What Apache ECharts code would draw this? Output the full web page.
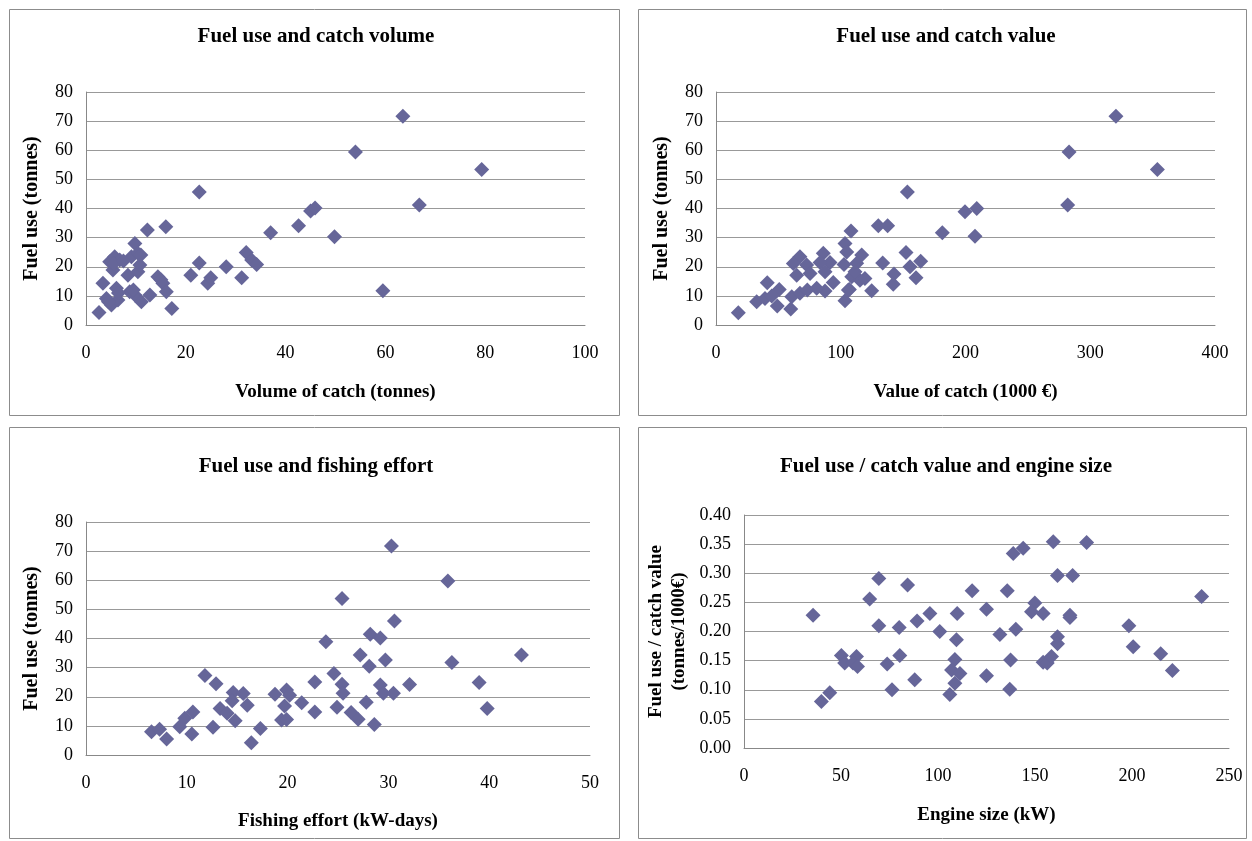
<!DOCTYPE html>
<html>
<head>
<meta charset="utf-8">
<script src="https://cdn.jsdelivr.net/npm/echarts@6/dist/echarts.min.js"></script>
<style>
html,body{margin:0;padding:0;background:#fff;}
#c{width:1252px;height:841px;}
</style>
</head>
<body>
<div id="c"></div>
<script>
// Panel 1: volume of catch (tonnes) vs fuel use (tonnes)
var volumeX = [2.6,3.4,4.1,4.75,5.1,5.4,5.75,6.1,6.4,6.75,8.4,8.75,9.1,9.8,9.8,10.4,10.4,10.8,11.1,12.3,12.8,14.4,15.0,15.4,16.0,16.1,17.2,21.0,22.7,22.7,24.4,25.0,28.1,31.2,32.1,33.2,34.2,37.0,42.6,45.0,45.9,49.8,54.0,59.5,63.5,66.8,79.3,5.5,6.5,7.5,9.5,4.5,11.0];
var volumeY = [4.3,14.3,9.1,21.7,6.9,18.9,23.4,12.6,8.6,22.3,17.1,11.4,23.4,10.3,28.0,24.6,18.3,20.6,8.0,32.6,10.3,16.6,15.5,14.3,33.7,11.4,5.7,17.1,45.7,21.3,14.3,16.2,20.0,16.2,24.9,22.3,20.8,31.7,34.1,39.1,40.2,30.3,59.4,11.8,71.7,41.2,53.4,21.0,11.0,22.0,12.0,8.0,24.0];

// Panel 2: value of catch (1000 EUR) vs fuel use (tonnes)
var valueX = [17.9,153.4,181.4,130.1,137.6,108.2,152.3,155.5,164.1,160.3,142.7,142.1,133.6,124.8,103.4,106.9,59.9,41.1,50.7,32.6,49.1,320.6,283.0,353.8,281.9,199.6,209.0,207.6,103.4,104.8,116.8,86.0,91.4,102.6,112.8,87.4,94.0,87.4,108.8,115.4,119.4,106.1,111.4,67.3,83.4,62.0,72.7,64.7,75.4,39.3,44.7,60.7,67.3,73.2,80.7];
var valueY = [4.2,45.7,31.7,34.1,34.1,32.3,24.9,20.0,21.9,16.2,17.5,14.0,21.3,11.8,8.3,12.2,5.5,14.5,12.2,8.0,6.5,71.7,59.4,53.4,41.2,38.9,40.0,30.5,28.0,25.1,24.0,24.6,21.5,20.8,21.2,18.3,14.6,11.7,16.6,15.4,16.0,12.0,18.3,23.4,21.5,21.1,20.6,17.1,17.7,9.1,10.0,9.7,10.9,12.0,12.6];

// Panel 3: fishing effort (kW-days) vs fuel use (tonnes)
var effortX = [6.5,7.3,8.0,9.3,9.8,10.6,10.5,11.8,12.9,12.6,13.3,14.0,14.8,14.6,14.5,15.6,16.0,16.4,17.3,18.75,19.9,19.7,19.4,19.9,21.4,22.7,22.7,23.8,24.6,25.4,24.9,25.4,25.5,30.3,35.9,30.6,28.2,29.2,27.2,43.2,29.7,28.1,36.3,39.0,32.1,29.2,29.5,30.5,27.8,39.8,26.3,27.0,28.6,20.2];
var effortY = [8.0,8.8,5.5,9.7,12.6,14.8,7.2,27.3,24.5,9.5,16.0,14.3,11.8,21.5,18.6,21.1,17.1,4.2,9.1,20.9,22.3,16.8,12.0,12.2,17.9,25.1,14.8,38.9,28.0,53.7,16.4,24.3,21.2,71.8,59.7,46.0,41.5,40.2,34.3,34.3,32.6,30.5,31.8,24.9,24.2,24.0,21.2,21.2,18.1,16.0,14.6,12.3,10.5,20.5];

// Panel 4: engine size (kW) vs fuel use / catch value (tonnes/1000 EUR)
var engineX = [35.6,39.9,44.2,50.2,51.9,58.0,56.2,58.5,64.8,69.5,69.5,73.8,76.3,80.0,80.3,84.3,88.0,89.2,95.8,100.9,109.9,109.5,108.7,107.0,111.3,108.7,106.1,117.6,125.0,125.0,131.9,135.7,137.4,137.0,138.8,143.9,140.1,149.9,148.2,154.2,154.2,156.3,158.5,159.4,161.6,161.6,161.6,168.0,168.0,169.4,176.6,198.4,200.6,214.8,220.8,235.9];
var ratioY = [0.228,0.080,0.095,0.159,0.146,0.157,0.146,0.140,0.256,0.291,0.210,0.144,0.100,0.207,0.159,0.280,0.117,0.218,0.231,0.200,0.231,0.186,0.152,0.134,0.128,0.111,0.092,0.270,0.238,0.124,0.195,0.270,0.151,0.101,0.334,0.343,0.204,0.249,0.234,0.231,0.147,0.146,0.157,0.354,0.296,0.191,0.179,0.228,0.224,0.296,0.353,0.210,0.174,0.162,0.133,0.260];

var titles = ['Fuel use and catch volume','Fuel use and catch value','Fuel use and fishing effort','Fuel use / catch value and engine size'];
var xNames = ['Volume of catch (tonnes)','Value of catch (1000 €)','Fishing effort (kW-days)','Engine size (kW)'];
var yNames = ['Fuel use (tonnes)','Fuel use (tonnes)','Fuel use (tonnes)','Fuel use / catch value\n(tonnes/1000€)'];
var xMax = [100,400,50,250];
var xStep = [20,100,10,50];
var yMax = [80,80,80,0.4];
var yStep = [10,10,10,0.05];

function pairs(xs, ys){ return xs.map(function(x,i){ return [x, ys[i]]; }); }
var seriesData = [pairs(volumeX,volumeY), pairs(valueX,valueY), pairs(effortX,effortY), pairs(engineX,ratioY)];

var FONT = '"Liberation Serif", "DejaVu Serif", serif';
var MARK = '#666699';

var panels = [
  {box:[9,9,610,406],   grid:{left:86, top:92, width:499, height:233}, titleTop:21, titleX:311, xGap:58},
  {box:[638,9,608,406], grid:{left:716,top:92, width:499, height:233}, titleTop:21, titleX:941, xGap:58},
  {box:[9,427,610,411], grid:{left:86, top:522,width:504, height:233}, titleTop:451, titleX:311, xGap:57},
  {box:[638,427,608,411],grid:{left:744,top:515,width:485, height:233}, titleTop:451, titleX:941, xGap:58}
];

var option = {
  backgroundColor:'#fff',
  animation:false,
  textStyle:{fontFamily:FONT},
  title: panels.map(function(p,i){
    return {text:titles[i], left:p.titleX, top:p.titleTop, textAlign:'center',
      textStyle:{fontFamily:FONT, fontWeight:'bold', fontSize:21, color:'#000'}};
  }),
  graphic: panels.map(function(p){
    return {type:'rect', shape:{x:p.box[0]+0.5, y:p.box[1]+0.5, width:p.box[2], height:p.box[3]},
      style:{fill:'none', stroke:'#8c8c8c', lineWidth:1}, silent:true, z:-1};
  }),
  grid: panels.map(function(p){ return p.grid; }),
  xAxis: panels.map(function(p,i){
    return {type:'value', gridIndex:i, min:0, max:xMax[i], interval:xStep[i],
      name:xNames[i], nameLocation:'middle', nameGap:p.xGap,
      nameTextStyle:{fontFamily:FONT, fontWeight:'bold', fontSize:19, color:'#000'},
      axisLine:{show:true, onZero:false, lineStyle:{color:'#888', width:1}},
      axisTick:{show:false},
      splitLine:{show:false},
      axisLabel:{margin:19, fontFamily:FONT, fontSize:18, color:'#000'}};
  }),
  yAxis: panels.map(function(p,i){
    return {type:'value', gridIndex:i, min:0, max:yMax[i], interval:yStep[i],
      name:yNames[i], nameLocation:'middle', nameGap:(i===3?53:43), nameRotate:90,
      nameTextStyle:{fontFamily:FONT, fontWeight:'bold', fontSize:(i===3?19:20), color:'#000', lineHeight:23},
      axisLine:{show:true, lineStyle:{color:'#888', width:1}},
      axisTick:{show:false},
      splitLine:{show:true, lineStyle:{color:'#999', width:1}},
      axisLabel:{margin:13, fontFamily:FONT, fontSize:18, color:'#000',
        formatter: i===3 ? function(v){ return v.toFixed(2); } : null}};
  }),
  series: seriesData.map(function(d,i){
    return {type:'scatter', xAxisIndex:i, yAxisIndex:i, data:d, symbol:'diamond', symbolSize:15,
      itemStyle:{color:MARK, opacity:1}};
  })
};

var chart = echarts.init(document.getElementById('c'), null, {renderer:'canvas'});
chart.setOption(option);
</script>
</body>
</html>
